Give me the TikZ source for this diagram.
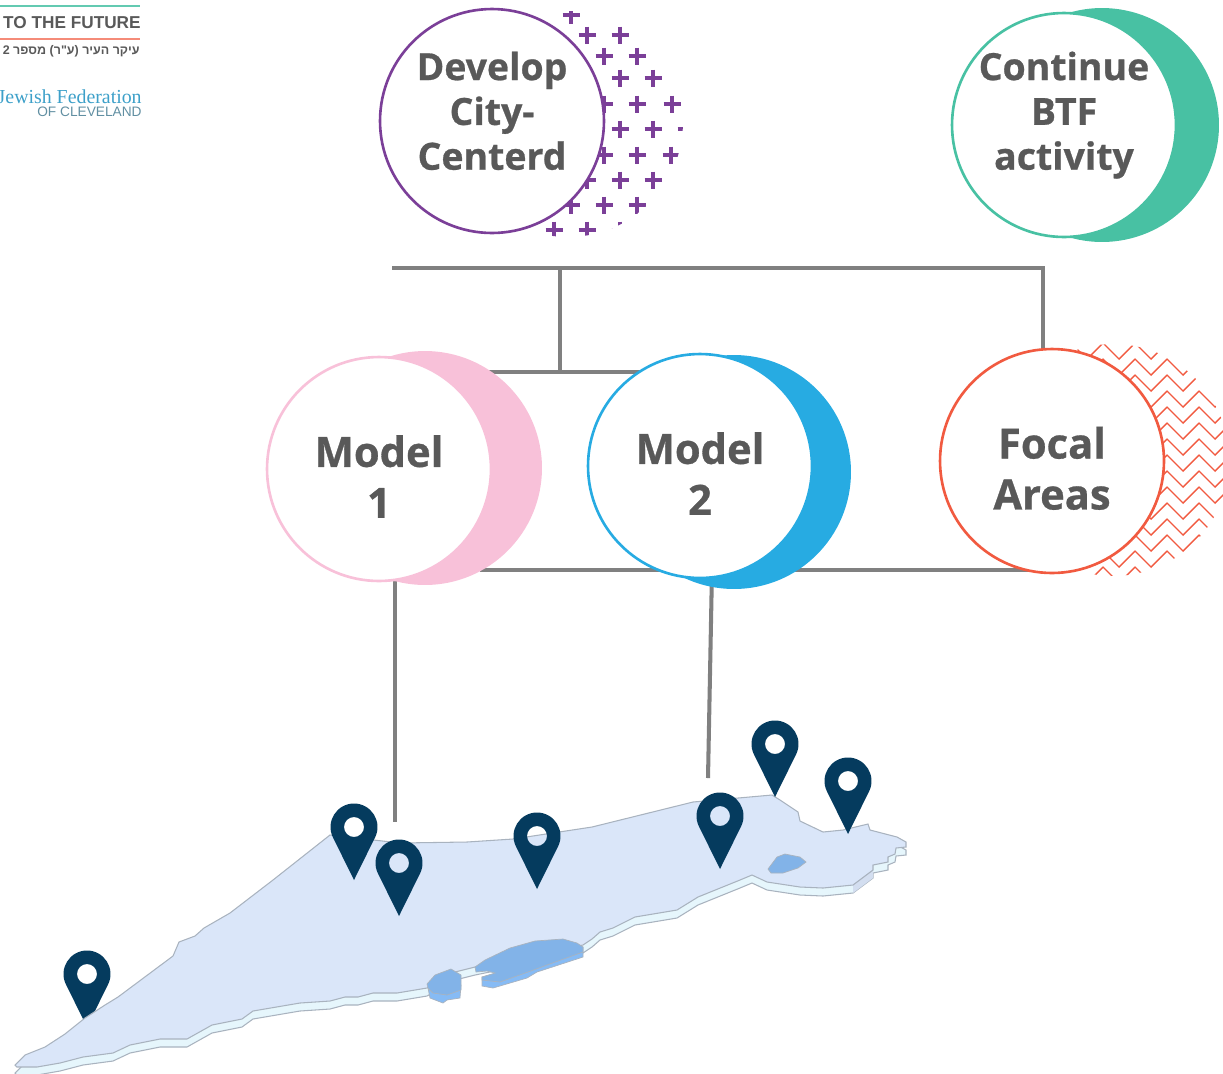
\documentclass[tikz,border=0pt]{standalone}
\usepackage{fontspec}
\setmainfont{Open Sans}[BoldFeatures={FakeBold=0.7}]
\newfontfamily\hebfont[Script=Hebrew]{Liberation Sans}
\newfontfamily\fedfont{Liberation Serif}
\newfontfamily\logofont{Liberation Sans}
\TeXXeTstate=1
\usetikzlibrary{backgrounds}
\definecolor{plumline}{HTML}{7B3F98}
\definecolor{mintline}{HTML}{48C1A3}
\definecolor{pinkline}{HTML}{F8C1D9}
\definecolor{skyline}{HTML}{27ABE2}
\definecolor{coralline}{HTML}{F15A40}
\definecolor{linkgray}{HTML}{808080}
\definecolor{textgray}{HTML}{595959}
\definecolor{landtop}{HTML}{DAE6F9}
\definecolor{landside}{HTML}{E6F6FC}
\definecolor{landedge}{HTML}{A9B3BF}
\definecolor{laketop}{HTML}{82B3E8}
\definecolor{lakeside}{HTML}{86BBF5}
\definecolor{pinblue}{HTML}{053B5E}
\newcommand{\shiftlines}[2]{\raisebox{#1}[0pt][0pt]{\begin{tabular}[c]{@{}c@{}}#2\end{tabular}}}
\tikzset{
  bubble/.style={circle, draw, fill=white, line width=1.5pt, minimum size=4.48cm, inner sep=0pt, text=textgray, font=\bfseries\fontsize{21.3}{25.5}\selectfont},
  bigbubble/.style={bubble, font=\bfseries\fontsize{23.7}{29}\selectfont},
  moon/.style={circle, minimum size=4.68cm, inner sep=0pt},
  link/.style={linkgray, line width=2.3pt},
  pinmark/.pic={
    \fill[pinblue, even odd rule] (0,0) -- (21.07,-42.6) .. controls (28.78,-58.2) and (17.4,-76.5) .. (0,-76.5)
      .. controls (-17.4,-76.5) and (-28.78,-58.2) .. (-21.07,-42.6) -- cycle
      (0,-53) circle [radius=0.2cm];
  }
}
\def\landpath{(15,1065) -- (25,1055) -- (45,1047) -- (65,1034) -- (85,1018) -- (105,1005) -- (118,997) -- (173,956) -- (179,942) -- (195,936) -- (204,928) -- (230,913) -- (273,880) -- (330,835) -- (400,843) -- (467,842) -- (513,839) -- (592,827) -- (693,802) -- (772,795) -- (780,800) -- (798,812) -- (800,821) -- (823,832) -- (843,830) -- (868,824) -- (870,830) -- (897,837) -- (906,842) -- (906,847) -- (896,848) -- (895,854) -- (888,857) -- (888,862) -- (873,865) -- (873,870) -- (853,885) -- (823,888) -- (800,887) -- (767,882) -- (752,875) -- (740,880) -- (698,897) -- (677,910) -- (647,915) -- (635,917) -- (613,928) -- (600,932) -- (592,939) -- (583,945) -- (475,967) -- (455,972) -- (427,988) -- (397,993) -- (373,993) -- (358,997) -- (345,997) -- (330,1001) -- (300,1003) -- (253,1011) -- (242,1019) -- (212,1025) -- (187,1039) -- (160,1039) -- (130,1045) -- (113,1053) -- (83,1057) -- (60,1063) -- (37,1067) -- (17,1067) -- cycle}
\begin{document}
\begin{tikzpicture}[x=0.02cm, y=-0.02cm]
  \useasboundingbox (0,0) rectangle (1223,1073);

  \node[bubble, draw=plumline] at (492,121) (develop) {\shiftlines{-2.3pt}{Develop\\City-\\Centerd}};
  \node[bubble, draw=mintline] at (1064,125) (continue) {\shiftlines{0pt}{Continue\\BTF\\activity}};
  \node[bigbubble, draw=pinkline] at (379,469) (modelone) {\shiftlines{-13.7pt}{Model\\1}};
  \node[bigbubble, draw=skyline] at (700,466) (modeltwo) {\shiftlines{-13.7pt}{Model\\2}};
  \node[bigbubble, draw=coralline] at (1052,461) (focal) {\shiftlines{-13.5pt}{Focal\\Areas}};

  \coordinate (busleft) at (392,268);
  \coordinate (busright) at (1043,268);
  \coordinate (busdrop) at (560,268);
  \coordinate (midbar) at (560,372);
  \coordinate (lowbar) at (480,570);
  \coordinate (onefoot) at (395,822);
  \coordinate (twofoot) at (708,778);

  \begin{scope}[on background layer]
    \draw[link] (busleft) -- (busright) -- (busright |- focal.north);
    \draw[link] (busdrop) -- (midbar);
    \draw[link] (modelone.center |- midbar) -- (modeltwo.center |- midbar);
    \draw[link] (lowbar) -- (focal.center |- lowbar);
    \draw[link] (395,569) -- (onefoot);
    \draw[link] (712,570) -- (twofoot);

    \node[moon, fill=mintline] at (1102,125) (continuemoon) {};
    \node[moon, fill=pinkline] at (425,468) (onemoon) {};
    \node[moon, fill=skyline] at (734,472) (twomoon) {};

    \begin{scope}
      \clip (500,11) rectangle (700,240);
      \clip (568,122) circle [radius=2.3cm];
      \foreach \x/\y in {571/15, 587/35, 620/35, 604/56, 637/56, 620/78, 653/78, 604/104, 637/104, 672/104, 620/129, 653/129, 686/129, 604/155, 637/155, 671/155, 587/180, 620/180, 653/180, 571/205, 604/205, 637/205, 554/230, 587/230, 620/230}
        \draw[plumline, line width=1.9pt] (\x-8.5,\y) -- (\x+8.5,\y) (\x,\y-8.5) -- (\x,\y+8.5);
    \end{scope}

    \begin{scope}
      \clip (1113,460) circle [radius=2.32cm];
      \foreach \y in {343,359,...,599}
        \foreach \x in {1071,1103,...,1231}
          \draw[coralline, line width=0.8pt, line cap=round] (\x,\y) -- (\x+16,\y+16) -- (\x+32,\y);
    \end{scope}
  \end{scope}

  \pic at (87,1027) {pinmark};

  \draw[landedge, fill=landside, line width=0.6pt, shift={(0,8)}] \landpath;
  \fill[landtop!85!landedge] (873,870) -- (853,885) -- (853,893) -- (873,878) -- cycle;
  \draw[landedge, fill=landtop, line width=0.6pt] \landpath;

  \draw[landedge, fill=lakeside, line width=0.4pt] (482,977) -- (482,986) -- (493,988) -- (527,978) -- (537,972) -- (583,957) -- (583,947) -- (528,965) -- cycle;
  \draw[landedge, fill=laketop, line width=0.4pt] (475,967) -- (485,960) -- (510,948) -- (535,941) -- (563,939) -- (577,943) -- (583,947) -- (583,952) -- (547,965) -- (528,972) -- (500,982) -- (482,980) -- (482,977) -- (495,973) -- (487,971) -- (476,972) -- cycle;
  \draw[landedge, fill=lakeside, line width=0.4pt] (428,988) -- (430,998) -- (443,1003) -- (447,1000) -- (460,998) -- (461,985) -- cycle;
  \draw[landedge, fill=laketop, line width=0.4pt] (427,984) -- (435,975) -- (451,969) -- (461,975) -- (461,990) -- (447,995) -- (433,993) -- (428,988) -- cycle;
  \draw[landedge, fill=laketop, line width=0.4pt] (768,869) -- (777,857) -- (785,854) -- (800,857) -- (806,862) -- (798,868) -- (783,873) -- (771,873) -- cycle;

  \pic at (354,880) {pinmark};
  \pic at (399,916) {pinmark};
  \pic at (537,889) {pinmark};
  \pic at (720,869) {pinmark};
  \pic at (775,797) {pinmark};
  \pic at (848,834) {pinmark};

  \coordinate (mintstart) at (0,6);
  \coordinate (mintend) at (140,6);
  \coordinate (redstart) at (0,39);
  \coordinate (redend) at (140,39);
  \draw[mintline!85!white, line width=1.4pt] (mintstart) -- (mintend);
  \draw[coralline!70!white, line width=1.4pt] (redstart) -- (redend);
  \node[anchor=east, inner sep=0pt, text=textgray] at (141,22.5) (futurelogo) {\logofont\bfseries\fontsize{9.8}{10}\selectfont TO THE FUTURE};
  \node[anchor=east, inner sep=0pt, text=textgray] at (140,51) (hebrewlogo) {\hebfont\bfseries\fontsize{7.1}{8}\selectfont\beginR עיקר העיר (ע"ר) מספר 2\endR};
  \node[anchor=east, inner sep=0pt, text=skyline!75!gray] at (142,97) (fedlogo) {\fedfont\fontsize{11.3}{12}\selectfont Jewish Federation};
  \node[anchor=east, inner sep=0pt, text=skyline!35!gray] at (142,112) (clevelogo) {\logofont\fontsize{7.8}{8}\selectfont OF CLEVELAND};
\end{tikzpicture}
\end{document}
